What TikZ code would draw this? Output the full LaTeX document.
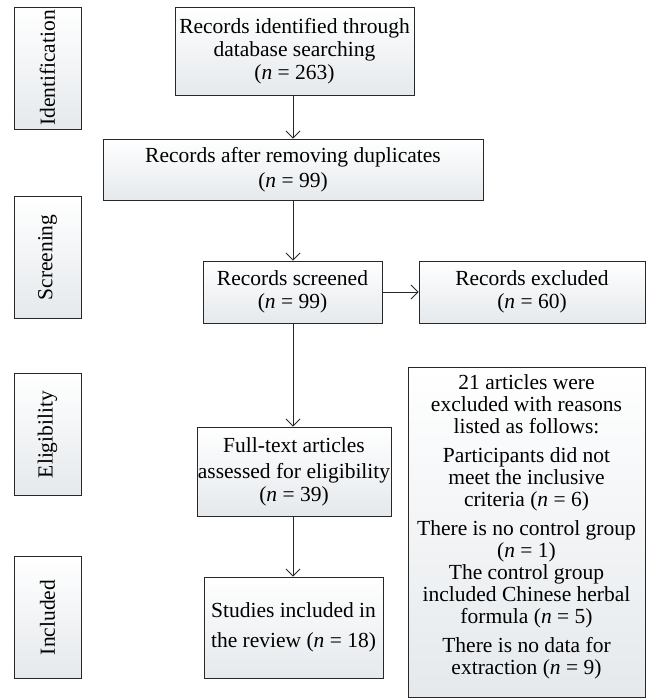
\documentclass[tikz,border=0pt]{standalone}
\usepackage{fontspec}
\setmainfont{Liberation Serif}
\usetikzlibrary{arrows.meta}
\definecolor{boxbot}{RGB}{229,233,236}
\definecolor{edge}{RGB}{40,40,40}
\begin{document}
\begin{tikzpicture}[x=1pt,y=-1pt,
  txt/.style={align=center, inner sep=0pt, font=\fontsize{21.5}{23}\selectfont},
  box/.style={draw=edge, line width=0.9pt, top color=white, bottom color=boxbot, txt},
  sidebox/.style={draw=edge, line width=0.9pt, top color=white, bottom color=boxbot,
    inner sep=0pt, minimum width=67, minimum height=122},
  sidetext/.style={rotate=90, txt},
  arr/.style={draw=edge, line width=0.9pt, -{Straight Barb[length=7pt,width=14pt,line width=0.9pt]}}]
\useasboundingbox (0,0) rectangle (646,699);
\coordinate (col) at (293,0);
% side labels
\node[sidebox] (sid) at (47.5,68) {};
\node[sidetext] (tid) at (sid) {Identification};
\node[sidebox] (ssc) at (47.5,257.5) {};
\node[sidetext] (tsc) at (ssc) {Screening};
\node[sidebox] (sel) at (47.5,434.5) {};
\node[sidetext] (tel) at (sel) {Eligibility};
\node[sidebox] (sin) at (47.5,617.5) {};
\node[sidetext] (tin) at (sin) {Included};
% main boxes
\node[box, minimum width=239, minimum height=88] (b1) at (294.5,51)
  {Records identified through\\database searching\\(\textit{n} = 263)};
\node[box, minimum width=380, minimum height=61] (b2) at (293,169.5)
  {Records after removing duplicates\\[2pt](\textit{n} = 99)};
\node[box, minimum width=179, minimum height=62] (b3) at (292.5,292)
  {Records screened\\(\textit{n} = 99)};
\node[box, minimum width=226, minimum height=62] (b4) at (532,292)
  {Records excluded\\(\textit{n} = 60)};
\node[box, minimum width=194, minimum height=89] (b5) at (294,471.5)
  {Full-text articles\\[3pt]assessed for eligibility\\(\textit{n} = 39)};
\node[box, minimum width=179, minimum height=101] (b6) at (293.5,627.5)
  {Studies included in\\[7pt]the review (\textit{n} = 18)};
\node[box, minimum width=237, minimum height=330] (b7) at (526.5,532) {};
\node[txt, font=\fontsize{21.5}{22}\selectfont] (b7t) at (526.5,527)
  {21 articles were\\excluded with reasons\\listed as follows:\\[7pt]
   Participants did not\\meet the inclusive\\criteria (\textit{n} = 6)\\[7pt]
   There is no control group\\(\textit{n} = 1)\\The control group\\included Chinese herbal\\formula (\textit{n} = 5)\\[7pt]
   There is no data for\\extraction (\textit{n} = 9)};
% connectors
\draw[arr] (b1.south -| col) -- (b2.north -| col);
\draw[arr] (b2.south -| col) -- (b3.north -| col);
\draw[arr] (b3.east) -- (b4.west);
\draw[arr] (b3.south -| col) -- (b5.north -| col);
\draw[arr] (b5.south -| col) -- (b6.north -| col);
\end{tikzpicture}
\end{document}
